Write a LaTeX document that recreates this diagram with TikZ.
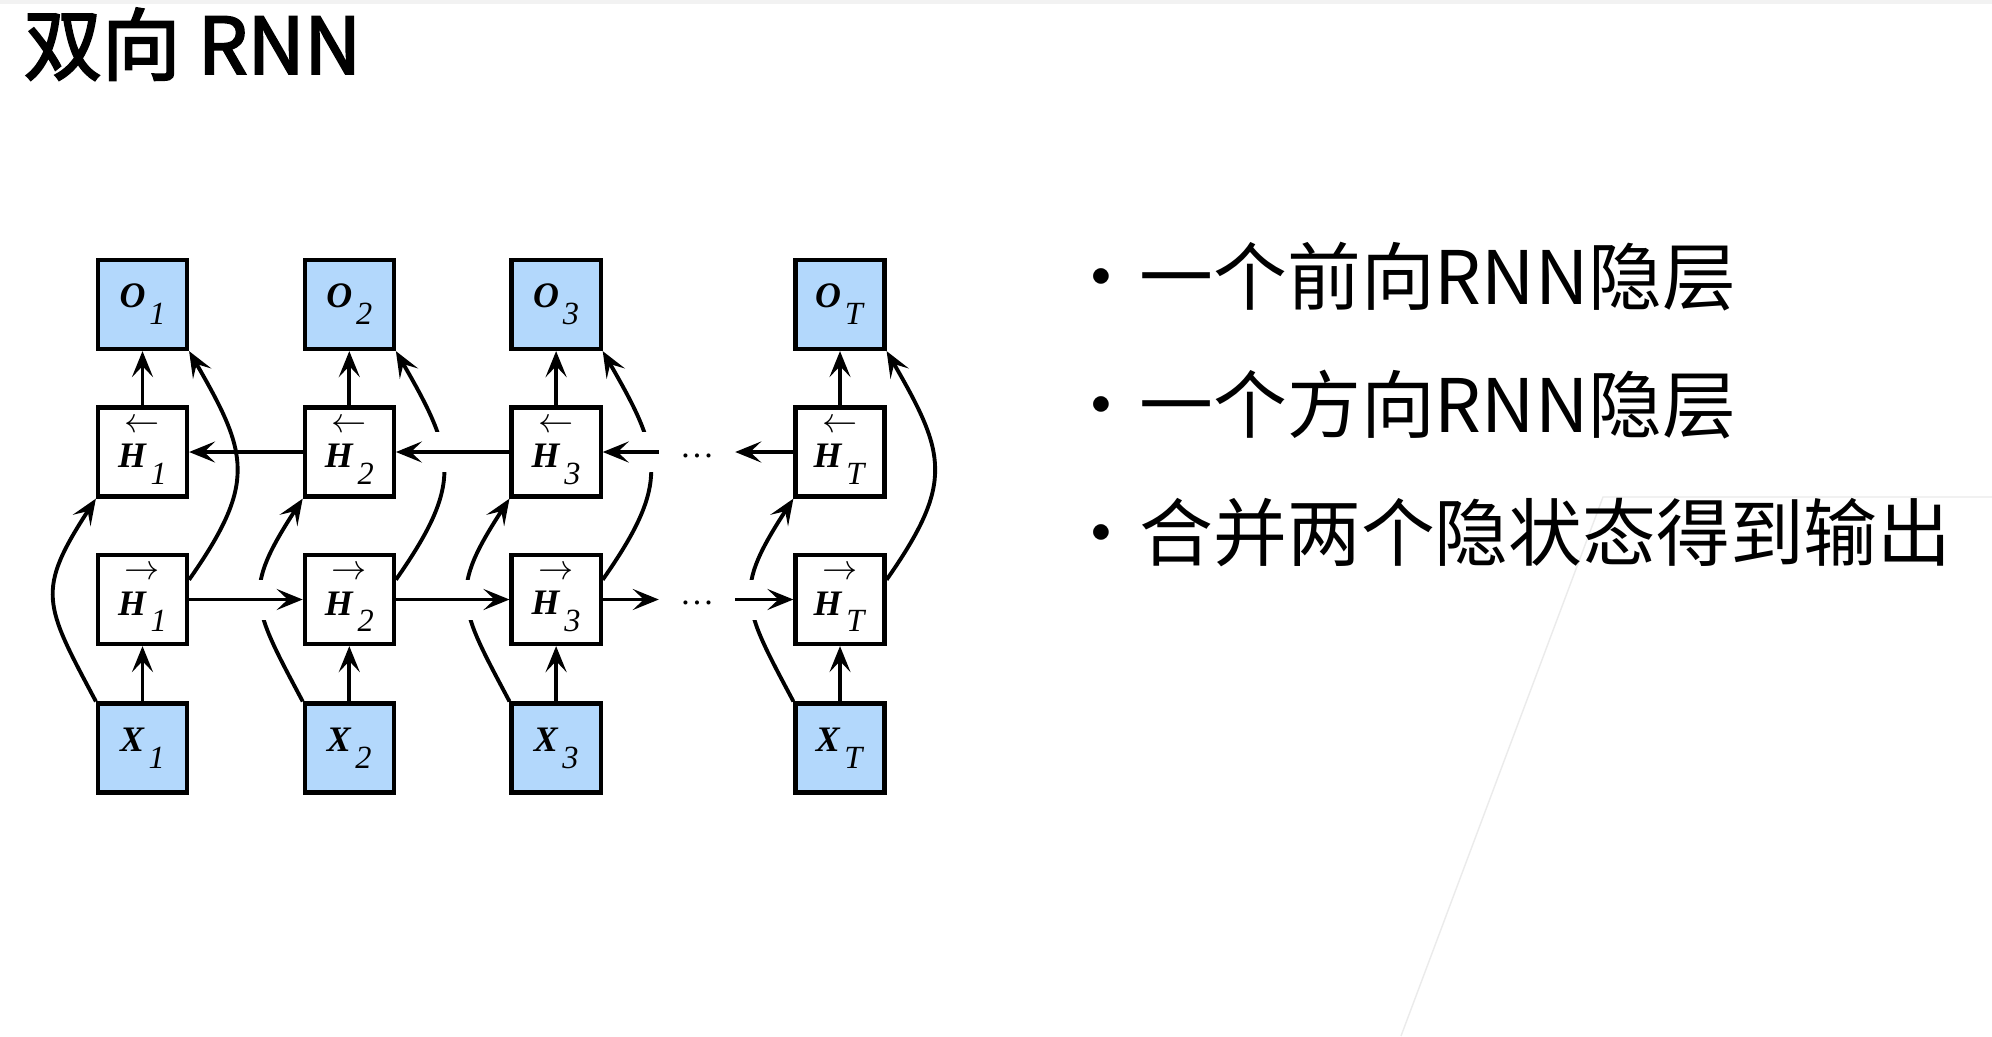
\documentclass[tikz,border=0pt]{standalone}
\usepackage{fontspec}
\setmainfont{Liberation Serif}
\newfontfamily\cjk{Noto Sans CJK SC}
\newfontfamily\cjkhead[FakeBold=2.5]{Noto Sans CJK SC}
\usetikzlibrary{arrows.meta,calc}
\definecolor{cellblue}{HTML}{B3D8FC}
\definecolor{slideline}{HTML}{EBEBEB}
\newcommand{\seqlab}[2]{\textbf{\textit{#1}}\kern1.1pt\raisebox{-4.8pt}{\fontsize{9.2}{9}\selectfont\textit{#2}}}
\newcommand{\larr}{{\fontsize{10}{9}\selectfont$\leftarrow$}}
\newcommand{\rarr}{{\fontsize{10}{9}\selectfont$\rightarrow$}}

\begin{document}
\begin{tikzpicture}[
  cell/.style={draw, line width=1.2pt, minimum size=8.9mm, inner sep=0pt, align=center, font=\fontsize{10.2}{10}\selectfont},
  io/.style={cell, fill=cellblue},
  flow/.style={-{Stealth[length=2.6mm,width=2.1mm,inset=1.1mm]}, line width=1.1pt},
  gap/.style={white, line width=4mm},
  skip/.style={minimum width=7.5mm, inner sep=0pt, text height=3pt, text depth=0pt, font=\fontsize{9.8}{10}\selectfont},
  item/.style={anchor=base west, inner sep=0pt, font=\cjk\fontsize{21}{25}\selectfont},
  bulletdot/.style={anchor=base, inner sep=0pt, font=\cjk\fontsize{21}{25}\selectfont}
]
\path[use as bounding box, fill=white] (0,0) rectangle (19.92,-10.36);
% slide edges
\fill[gray!10] (0,0) rectangle (19.92,-0.04);
\draw[slideline, line width=0.4pt] (19.92,-4.97) -- (16.03,-4.97) -- (14.01,-10.36);

% title
\node[anchor=base west, inner sep=0pt, font=\cjkhead\fontsize{22.3}{26}\selectfont] (title) at (0.23,-0.74) {双向 RNN};

% outputs
\node[io] (o1) at (1.425,-3.045) {\seqlab{O}{1}};
\node[io] (o2) at (3.493,-3.045) {\seqlab{O}{2}};
\node[io] (o3) at (5.561,-3.045) {\seqlab{O}{3}};
\node[io] (oT) at (8.40,-3.045) {\seqlab{O}{T}};

% backward hidden states
\node[cell] (hb1) at (1.425,-4.52) {\larr\\[0pt]\seqlab{H}{1}};
\node[cell] (hb2) at (3.493,-4.52) {\larr\\[0pt]\seqlab{H}{2}};
\node[cell] (hb3) at (5.561,-4.52) {\larr\\[0pt]\seqlab{H}{3}};
\node[cell] (hbT) at (8.40,-4.52) {\larr\\[0pt]\seqlab{H}{T}};
\node[skip] (skipb) at (6.97,-4.52) {\ldots};

% forward hidden states
\node[cell] (hf1) at (1.425,-5.995) {\rarr\\[0pt]\seqlab{H}{1}};
\node[cell] (hf2) at (3.493,-5.995) {\rarr\\[0pt]\seqlab{H}{2}};
\node[cell] (hf3) at (5.561,-5.995) {\rarr\\[0pt]\seqlab{H}{3}};
\node[cell] (hfT) at (8.40,-5.995) {\rarr\\[0pt]\seqlab{H}{T}};
\node[skip] (skipf) at (6.97,-5.995) {\ldots};

% inputs
\node[io] (x1) at (1.425,-7.48) {\seqlab{X}{1}};
\node[io] (x2) at (3.493,-7.48) {\seqlab{X}{2}};
\node[io] (x3) at (5.561,-7.48) {\seqlab{X}{3}};
\node[io] (xT) at (8.40,-7.48) {\seqlab{X}{T}};

% inputs into the backward layer
\draw[flow] (x1.north west) to[out=118,in=237,looseness=1.4] (hb1.south west);
\draw[flow] (x2.north west) to[out=118,in=237,looseness=1.4] (hb2.south west);
\draw[flow] (x3.north west) to[out=118,in=237,looseness=1.4] (hb3.south west);
\draw[flow] (xT.north west) to[out=118,in=237,looseness=1.4] (hbT.south west);

% forward layer into the outputs
\draw[flow] (hf1.23) to[out=55,in=-60,looseness=1.33] (o1.south east);
\draw[flow] (hf2.23) to[out=55,in=-60,looseness=1.33] (o2.south east);
\draw[flow] (hf3.23) to[out=55,in=-60,looseness=1.33] (o3.south east);
\draw[flow] (hfT.23) to[out=55,in=-60,looseness=1.33] (oT.south east);

% breaks where the chains cross
\draw[gap] ($(hf2.west)+(-0.54,0)$) -- ($(hf2.west)+(-0.26,0)$);
\draw[gap] ($(hf3.west)+(-0.54,0)$) -- ($(hf3.west)+(-0.26,0)$);
\draw[gap] ($(hfT.west)+(-0.54,0)$) -- ($(hfT.west)+(-0.26,0)$);
\draw[gap] ($(hb2.east)+(0.22,0)$) -- ($(hb2.east)+(0.56,0)$);
\draw[gap] ($(hb3.east)+(0.22,0)$) -- ($(hb3.east)+(0.56,0)$);

% straight links
\draw[flow] (x1.north) -- (hf1.south);
\draw[flow] (x2.north) -- (hf2.south);
\draw[flow] (x3.north) -- (hf3.south);
\draw[flow] (xT.north) -- (hfT.south);
\draw[flow] (hb1.north) -- (o1.south);
\draw[flow] (hb2.north) -- (o2.south);
\draw[flow] (hb3.north) -- (o3.south);
\draw[flow] (hbT.north) -- (oT.south);

\draw[flow] (hf1.east) -- (hf2.west);
\draw[flow] (hf2.east) -- (hf3.west);
\draw[flow] (hf3.east) -- (skipf.west);
\draw[flow] (skipf.east) -- (hfT.west);
\draw[flow] (hb2.west) -- (hb1.east);
\draw[flow] (hb3.west) -- (hb2.east);
\draw[flow] (skipb.west) -- (hb3.east);
\draw[flow] (hbT.west) -- (skipb.east);

% bullet list
\node[bulletdot] (dot1) at (11.01,-3.04) {•};
\node[item] (item1) at (11.39,-3.04) {一个前向RNN隐层};
\node[bulletdot] (dot2) at (11.01,-4.32) {•};
\node[item] (item2) at (11.39,-4.32) {一个方向RNN隐层};
\node[bulletdot] (dot3) at (11.01,-5.60) {•};
\node[item] (item3) at (11.39,-5.60) {合并两个隐状态得到输出};
\end{tikzpicture}
\end{document}
